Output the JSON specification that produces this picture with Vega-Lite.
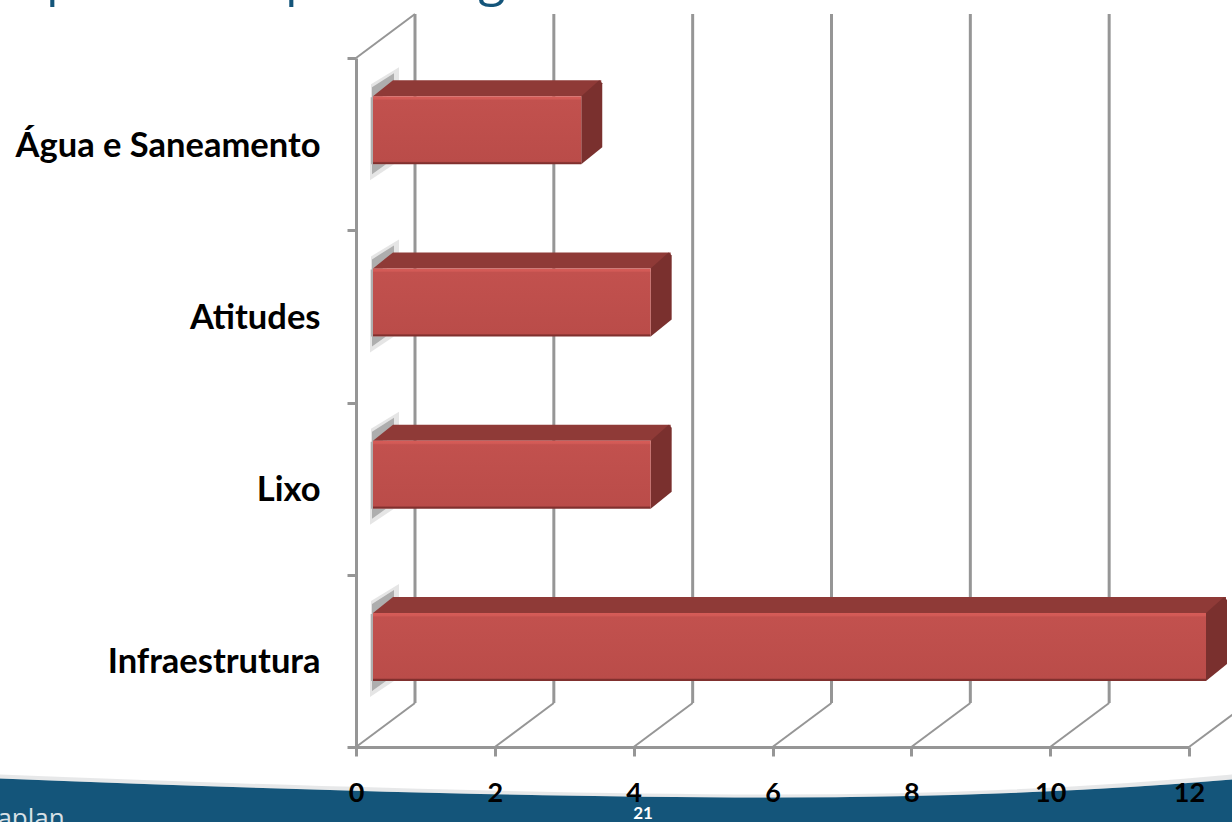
{
"$schema":"https://vega.github.io/schema/vega-lite/v6.json",
"width":833,"height":689,
"autosize":"none",
"padding":{"left":356,"top":58,"right":43,"bottom":75},
"background":"white",
"datasets":{
"bars":[{"tema":"Água e Saneamento","valor":3},{"tema":"Atitudes","valor":4},{"tema":"Lixo","valor":4},{"tema":"Infraestrutura","valor":12}],
"ticks":[{"t":0},{"t":2},{"t":4},{"t":6},{"t":8},{"t":10},{"t":12}],
"one":[{"k":1}]
},
"layer":[
{"data":{"name":"one"},"mark":{"type":"point","filled":true,"opacity":1,"size":4,"fill":"#14557a","stroke":null,"shape":"M-773,376 Q-300,395 0,395 Q250,395 460,377 L460,420 L-773,420 Z"}},
{"data":{"name":"one"},"mark":{"type":"point","filled":true,"opacity":0.35,"size":4,"fill":"#b9bcbf","stroke":null,"shape":"M-773,372 Q-300,391 0,392 Q250,392 460,372 L460,377 Q250,395 0,395 Q-300,395 -773,376 Z"}},
{"data":{"name":"ticks"},"mark":{"type":"point","filled":false,"opacity":1,"size":4,"stroke":"#969696","strokeWidth":3,"shape":"M59,-388.5 L59,300.5"},"encoding":{"x":{"field":"t","type":"quantitative","scale":{"domain":[0,12],"nice":false},"axis":{"values":[0,2,4,6,8,10,12],"format":"d","grid":false,"title":null,"zindex":1,"domainColor":"#969696","domainWidth":3,"tickColor":"#969696","tickWidth":3,"tickSize":9,"labelColor":"#000000","labelFont":"Lato","labelFontWeight":"bold","labelFontSize":27,"labelPadding":37,"labelFlush":false,"labelBaseline":"middle"}}}},
{"data":{"name":"ticks"},"mark":{"type":"point","filled":false,"opacity":1,"size":4,"stroke":"#969696","strokeWidth":2,"shape":"M0,344.5 L59,300.5"},"encoding":{"x":{"field":"t","type":"quantitative"}}},
{"data":{"values":[{"t":0}]},"mark":{"type":"point","filled":false,"opacity":1,"size":4,"stroke":"#969696","strokeWidth":2,"shape":"M0,-344.5 L59,-388.5"},"encoding":{"x":{"field":"t","type":"quantitative"}}},
{"data":{"name":"bars"},"mark":{"type":"point","filled":true,"opacity":0.35,"size":4,"fill":"#b4b4b4","stroke":null,"shape":"M15,-47 L15,-60 L43,-77 L43,-64 L30,-47 Z M14,-47 L17,-47 L17,20 L14,20 Z M14,20 L14,36 L38,20 Z"},"encoding":{"x":{"datum":0,"type":"quantitative"},"y":{"field":"tema","type":"nominal","sort":null}}},
{"data":{"name":"bars"},"mark":{"type":"point","filled":true,"opacity":0.8,"size":4,"fill":"#a0a0a0","stroke":null,"shape":"M16,-47 L16,-57 L38,-71 L38,-64 L26,-47 Z M15,-47 L17,-47 L17,20 L15,20 Z M16,20 L16,30 L30,20 Z"},"encoding":{"x":{"datum":0,"type":"quantitative"},"y":{"field":"tema","type":"nominal","sort":null}}},
{"data":{"name":"bars"},"mark":{"type":"bar","size":16,"color":"#8f3a37","xOffset":37,"yOffset":-56},"encoding":{"x":{"field":"valor","type":"quantitative"},"y":{"field":"tema","type":"nominal","sort":null}}},
{"data":{"name":"bars"},"mark":{"type":"point","filled":true,"opacity":1,"size":4,"fill":"#8f3a37","stroke":null,"shape":"M17,-48 L37,-64 L37,-48 Z"},"encoding":{"x":{"datum":0,"type":"quantitative"},"y":{"field":"tema","type":"nominal","sort":null}}},
{"data":{"name":"bars"},"mark":{"type":"point","filled":true,"opacity":1,"size":4,"fill":"#7a302e","stroke":null,"shape":"M17,-48 L35,-64 L38,-61 L38,3 L17,20 Z"},"encoding":{"x":{"field":"valor","type":"quantitative"},"y":{"field":"tema","type":"nominal","sort":null}}},
{"data":{"name":"bars"},"mark":{"type":"bar","size":68,"xOffset":17,"yOffset":-14,
"color":{"gradient":"linear","x1":0,"y1":0,"x2":0,"y2":1,"stops":[{"offset":0,"color":"#d65c58"},{"offset":0.04,"color":"#d25a56"},{"offset":0.06,"color":"#c2514e"},{"offset":0.96,"color":"#ba4c49"},{"offset":0.98,"color":"#80302e"},{"offset":1,"color":"#80302e"}]}},
"encoding":{
"x":{"field":"valor","type":"quantitative"},
"y":{"field":"tema","type":"nominal","sort":null,"scale":{"paddingInner":0,"paddingOuter":0},
"axis":{"title":null,"zindex":1,"tickBand":"extent","domainColor":"#969696","domainWidth":3,"tickColor":"#969696","tickWidth":3,"tickSize":9,"labelColor":"#000000","labelFont":"Lato","labelFontWeight":"bold","labelFontSize":34.5,"labelPadding":27,"labelLimit":340,"labelOffset":2}}}},
{"data":{"values":[{"texto":"21"}]},"mark":{"type":"text","font":"Lato","fontWeight":"bold","fontSize":17,"color":"#ffffff","align":"center","baseline":"middle","dx":-129.5,"dy":411},"encoding":{"text":{"field":"texto"}}},
{"data":{"values":[{"texto":"Kaplan"}]},"mark":{"type":"text","font":"Open Sans","fontSize":26,"color":"#d8e0e6","align":"left","baseline":"alphabetic","dx":-791,"dy":424},"encoding":{"text":{"field":"texto"}}},
{"data":{"values":[{"texto":"Aspectos de pior imagem"}]},"mark":{"type":"text","font":"Open Sans","fontSize":50,"color":"#14557a","align":"left","baseline":"alphabetic","dx":-782,"dy":-408},"encoding":{"text":{"field":"texto"}}}
],
"config":{"view":{"stroke":null}}
}
